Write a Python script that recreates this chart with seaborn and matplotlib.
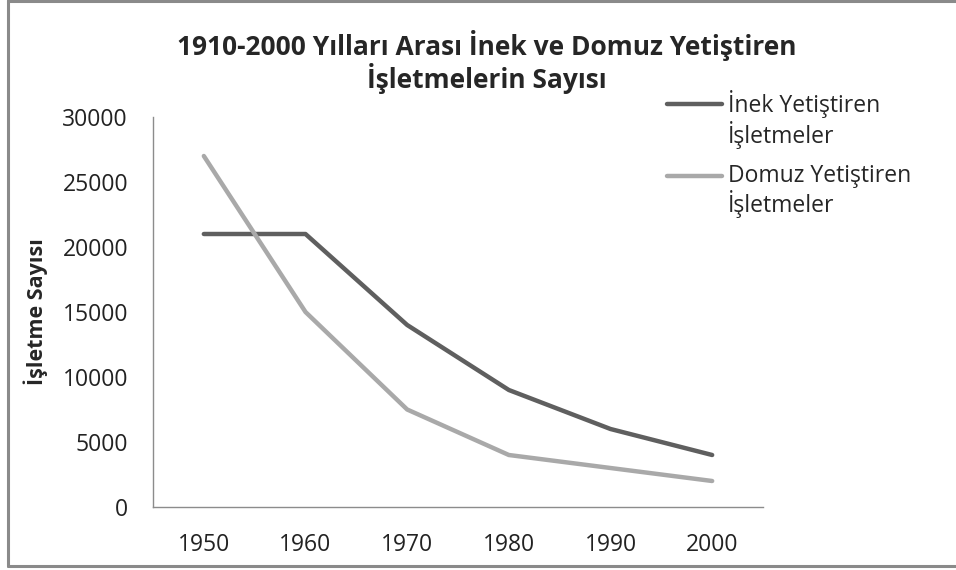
import pandas as pd
import matplotlib
matplotlib.use("Agg")
import matplotlib.pyplot as plt
import seaborn as sns
from matplotlib.lines import Line2D
from matplotlib.legend_handler import HandlerLine2D

# data
years = ["1950", "1960", "1970", "1980", "1990", "2000"]
inek = [21000, 21000, 14000, 9000, 6000, 4000]
domuz = [27000, 15000, 7500, 4000, 3000, 2000]
series_names = ["İnek Yetiştiren\nİşletmeler", "Domuz Yetiştiren\nİşletmeler"]
y_ticks = [0, 5000, 10000, 15000, 20000, 25000, 30000]

sns.set_theme(style="white")
plt.rcParams["font.family"] = ["Open Sans", "DejaVu Sans"]

df = pd.DataFrame({"Yıl": years * 2,
                   "Sayı": inek + domuz,
                   "Seri": [series_names[0]] * 6 + [series_names[1]] * 6})


# Excel puts the legend line next to the first line of a wrapped label
class FirstLineHandler(HandlerLine2D):
    def __init__(self, shift, **kw):
        super().__init__(**kw)
        self.shift = shift

    def create_artists(self, legend, orig_handle, xdescent, ydescent,
                       width, height, fontsize, trans):
        arts = super().create_artists(legend, orig_handle, xdescent, ydescent,
                                      width, height, fontsize, trans)
        for a in arts:
            a.set_ydata([y + self.shift for y in a.get_ydata()])
        return arts


fig = plt.figure(figsize=(9.56, 5.70), dpi=100)
ax = fig.add_axes([153 / 956, 63 / 570, 610 / 956, 390 / 570])

sns.lineplot(data=df, x="Yıl", y="Sayı", hue="Seri", sort=False,
             palette=["#5f5f5f", "#a9a9a9"], linewidth=3.2, ax=ax)

ax.set_xlim(-0.5, 5.5)
ax.set_ylim(0, 30000)
ax.set_yticks(y_ticks)
ax.set_yticklabels([str(v) for v in y_ticks])
ax.tick_params(axis="both", length=0, labelsize=16.5, colors="#222222")
ax.tick_params(axis="y", pad=18)
ax.tick_params(axis="x", pad=19)
ax.set_xlabel("")
ax.set_ylabel("İşletme Sayısı", fontsize=15.5, fontweight="bold", labelpad=10)

for side in ["top", "right"]:
    ax.spines[side].set_visible(False)
for side in ["left", "bottom"]:
    ax.spines[side].set_color("#8c8c8c")
    ax.spines[side].set_linewidth(1.0)

handles, labels = ax.get_legend_handles_labels()
leg = ax.legend(handles, labels, loc="upper left",
                bbox_to_anchor=(667 / 956, 1 - 90 / 570),
                bbox_transform=fig.transFigure, frameon=False, fontsize=16.5,
                handlelength=2.4, handletextpad=0.25, labelspacing=0.65,
                borderaxespad=0, borderpad=0,
                handler_map={Line2D: FirstLineHandler(shift=11.5)})
for t in leg.get_texts():
    t.set_linespacing(1.12)

fig.text(487 / 956, 1 - 62 / 570,
         "1910-2000 Yılları Arası İnek ve Domuz Yetiştiren\nİşletmelerin Sayısı",
         ha="center", va="center", fontsize=19, fontweight="bold",
         linespacing=1.1)

# outer chart frame like the spreadsheet export
for xs, ys in [([8 / 956, 8 / 956], [4 / 570, 1]),
               ([8 / 956, 1], [1 - 1 / 570, 1 - 1 / 570]),
               ([8 / 956, 1], [4 / 570, 4 / 570])]:
    fig.add_artist(Line2D(xs, ys, transform=fig.transFigure,
                          color="#8a8a8a", linewidth=2.2))

fig.savefig("out.png", dpi=100, facecolor="white")
